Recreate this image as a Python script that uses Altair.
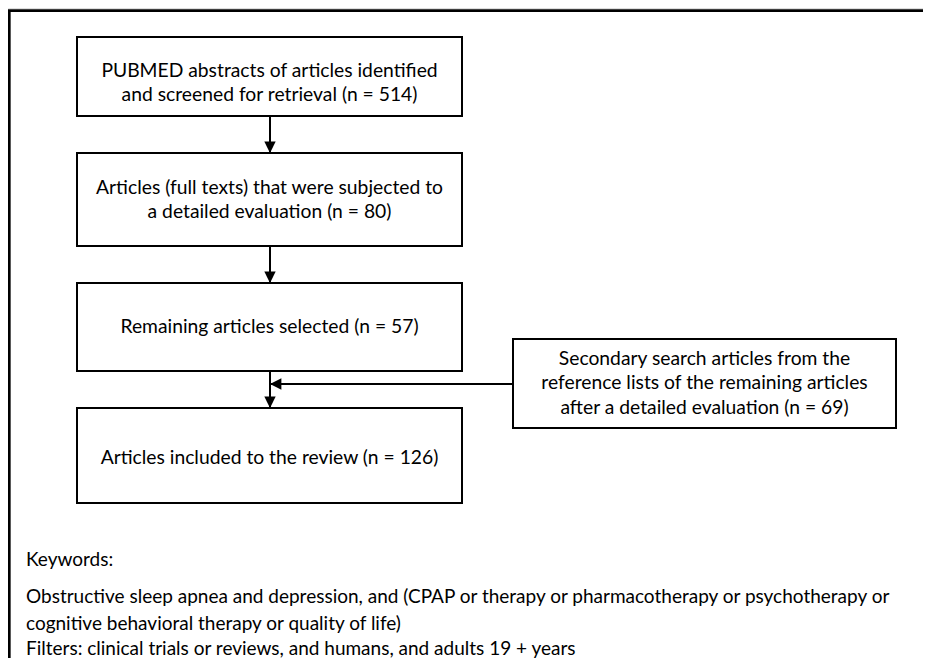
import altair as alt
import pandas as pd

# ---- flow-chart content -------------------------------------------------
box_labels = [
    "PUBMED abstracts of articles identified\nand screened for retrieval (n = 514)",
    "Articles (full texts) that were subjected to\na detailed evaluation (n = 80)",
    "Remaining articles selected (n = 57)",
    "Articles included to the review (n = 126)",
    "Secondary search articles from the\nreference lists of the remaining articles\nafter a detailed evaluation (n = 69)",
]
# layout of the boxes (page pixel units)
box_x0 = [77, 77, 77, 77, 513]
box_x1 = [462, 462, 462, 462, 896]
box_y0 = [37, 153, 283, 408, 339]
box_y1 = [116, 246, 371, 503, 428]
text_y = [83, 200, 327, 458, 383]

# connectors: (x1, y1) -> (x2, y2), arrow head at the end
conn_x1 = [270, 270, 270, 513]
conn_y1 = [116, 246, 371, 384]
conn_x2 = [270, 270, 270, 270]
conn_y2 = [153, 283, 408, 384]
conn_dir = ["down", "down", "down", "left"]

note_lines = [
    "Keywords:",
    "Obstructive sleep apnea and depression, and (CPAP or therapy or pharmacotherapy or psychotherapy or",
    "cognitive behavioral therapy or quality of life)",
    "Filters: clinical trials or reviews, and humans, and adults 19 + years",
]
note_x = [26, 26, 26, 26]
note_y = [560, 597, 624, 649]

# outer frame (open at right and bottom)
frame_x1 = [8, 9.3]
frame_x2 = [931, 9.3]
frame_y1 = [10.7, 10]
frame_y2 = [10.7, 666]

FONT = "Lato"
FS_BOX = 19.3
FS_NOTE = 19
LH = 24.5
W, H = 915, 650

xs = alt.Scale(domain=[8, 8 + W], nice=False, zero=False)
ys = alt.Scale(domain=[8, 8 + H], nice=False, zero=False, reverse=True)

boxes = pd.DataFrame({"label": box_labels, "x0": box_x0, "x1": box_x1,
                      "y0": box_y0, "y1": box_y1, "ty": text_y})
boxes["cx"] = (boxes.x0 + boxes.x1) / 2
nlines = boxes.label.str.count("\n")
boxes["fy"] = boxes.ty - nlines * LH / 2  # first-line position of a centred block
conns = pd.DataFrame({"x1": conn_x1, "y1": conn_y1, "x2": conn_x2,
                      "y2": conn_y2, "dir": conn_dir})
notes = pd.DataFrame({"t": note_lines, "x": note_x, "y": note_y})
frame = pd.DataFrame({"x1": frame_x1, "x2": frame_x2, "y1": frame_y1, "y2": frame_y2})

rects = alt.Chart(boxes).mark_rect(fill="white", stroke="black", strokeWidth=2).encode(
    x=alt.X("x0:Q", scale=xs, axis=None), x2="x1:Q",
    y=alt.Y("y0:Q", scale=ys, axis=None), y2="y1:Q")

labels = alt.Chart(boxes).mark_text(font=FONT, fontSize=FS_BOX, lineBreak="\n",
                                    lineHeight=LH, align="center",
                                    baseline="middle", color="black").encode(
    x=alt.X("cx:Q", scale=xs, axis=None),
    y=alt.Y("fy:Q", scale=ys, axis=None), text="label:N")

lines = alt.Chart(conns).mark_rule(color="black", strokeWidth=2).encode(
    x=alt.X("x1:Q", scale=xs, axis=None), x2="x2:Q",
    y=alt.Y("y1:Q", scale=ys, axis=None), y2="y2:Q")

heads_down = alt.Chart(conns).transform_filter(alt.datum.dir == "down").mark_point(
    shape="M0,0L-1,-2L1,-2Z", size=130, filled=True, color="black", opacity=1).encode(
    x=alt.X("x2:Q", scale=xs, axis=None), y=alt.Y("y2:Q", scale=ys, axis=None))

heads_left = alt.Chart(conns).transform_filter(alt.datum.dir == "left").mark_point(
    shape="M0,0L2,-1L2,1Z", size=130, filled=True, color="black", opacity=1).encode(
    x=alt.X("x2:Q", scale=xs, axis=None), y=alt.Y("y2:Q", scale=ys, axis=None))

note_text = alt.Chart(notes).mark_text(font=FONT, fontSize=FS_NOTE, align="left",
                                       baseline="middle", color="black").encode(
    x=alt.X("x:Q", scale=xs, axis=None), y=alt.Y("y:Q", scale=ys, axis=None), text="t:N")

frame_lines = alt.Chart(frame).mark_rule(color="black", strokeWidth=2.7).encode(
    x=alt.X("x1:Q", scale=xs, axis=None), x2="x2:Q",
    y=alt.Y("y1:Q", scale=ys, axis=None), y2="y2:Q")

chart = alt.layer(frame_lines, lines, rects, labels, heads_down, heads_left, note_text).properties(
    width=W, height=H, padding=0, autosize=alt.AutoSizeParams(type="none")
).configure_view(stroke=None).configure(background="white")

chart.save("out.html", embed_options={"renderer": "svg", "actions": False})
